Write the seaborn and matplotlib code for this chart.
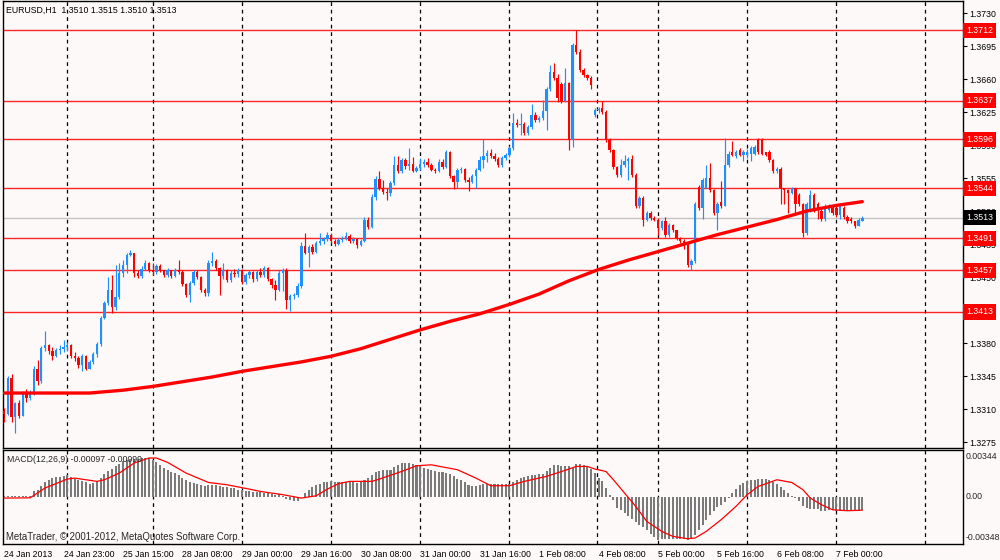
import numpy as np
import matplotlib
matplotlib.use("Agg")
import matplotlib.pyplot as plt
import seaborn as sns

# ---------------- data ----------------
closes = [
    1.3305, 1.3343, 1.3302, 1.3316, 1.3303, 1.3326, 1.3322, 1.3327,
    1.3352, 1.3340, 1.3375, 1.3378, 1.3372, 1.3366, 1.3373, 1.3374,
    1.3376, 1.3378, 1.3366, 1.3364, 1.3357, 1.3366, 1.3353, 1.3360,
    1.3368, 1.3379, 1.3407, 1.3422, 1.3436, 1.3418, 1.3429, 1.3454,
    1.3463, 1.3473, 1.3476, 1.3454, 1.3451, 1.3459, 1.3465, 1.3458,
    1.3455, 1.3462, 1.3457, 1.3452, 1.3457, 1.3451, 1.3458, 1.3455,
    1.3443, 1.3431, 1.3444, 1.3455, 1.3450, 1.3436, 1.3433, 1.3465,
    1.3467, 1.3460, 1.3451, 1.3458, 1.3447, 1.3454, 1.3453, 1.3457,
    1.3445, 1.3452, 1.3455, 1.3448, 1.3455, 1.3452, 1.3460, 1.3448,
    1.3442, 1.3436, 1.3454, 1.3458, 1.3426, 1.3430, 1.3431, 1.3441,
    1.3483, 1.3476, 1.3482, 1.3477, 1.3486, 1.3488, 1.3490, 1.3495,
    1.3488, 1.3485, 1.3489, 1.3491, 1.3494, 1.3488, 1.3490, 1.3484,
    1.3488, 1.3511, 1.3503, 1.3535, 1.3554, 1.3544, 1.3540, 1.3539,
    1.3550, 1.3569, 1.3562, 1.3574, 1.3568, 1.3570, 1.3563, 1.3566,
    1.3570, 1.3572, 1.3569, 1.3564, 1.3562, 1.3572, 1.3567, 1.3583,
    1.3557, 1.3551, 1.3564, 1.3565, 1.3553, 1.3551, 1.3557, 1.3564,
    1.3574, 1.3578, 1.3582, 1.3578, 1.3575, 1.3569, 1.3576, 1.3580,
    1.3587, 1.3613, 1.3611, 1.3612, 1.3603, 1.3609, 1.3622, 1.3617,
    1.3619, 1.3626, 1.3650, 1.3668, 1.3661, 1.3640, 1.3637, 1.3656,
    1.3595, 1.3696, 1.3689, 1.3670, 1.3664, 1.3661, 1.3654, 1.3627,
    1.3628, 1.3625, 1.3595, 1.3585, 1.3567, 1.3558, 1.3569, 1.3573,
    1.3575, 1.3558, 1.3525, 1.3534, 1.3511, 1.3518, 1.3513, 1.3511,
    1.3502, 1.3509, 1.3495, 1.3505, 1.3500, 1.3491, 1.3488, 1.3484,
    1.3463, 1.3467, 1.3528, 1.3523, 1.3553, 1.3555, 1.3542, 1.3518,
    1.3528, 1.3525, 1.3569, 1.3581, 1.3580, 1.3583, 1.3580, 1.3583,
    1.3583, 1.3587, 1.3588, 1.3583, 1.3581, 1.3580, 1.3574, 1.3562,
    1.3565, 1.3544, 1.3542, 1.3539, 1.3544, 1.3527, 1.3527, 1.3497,
    1.3528, 1.3537, 1.3521, 1.3521, 1.3512, 1.3525, 1.3525, 1.3518,
    1.3516, 1.3525, 1.3514, 1.3509, 1.3509, 1.3504, 1.3511, 1.3513,
]
highs = [
    1.3311, 1.3345, 1.3347, 1.3318, 1.3320, 1.3329, 1.3331, 1.3330,
    1.3356, 1.3362, 1.3377, 1.3393, 1.3379, 1.3376, 1.3375, 1.3378,
    1.3383, 1.3381, 1.3379, 1.3371, 1.3366, 1.3368, 1.3367, 1.3362,
    1.3370, 1.3381, 1.3409, 1.3425, 1.3450, 1.3452, 1.3463, 1.3465,
    1.3468, 1.3476, 1.3479, 1.3476, 1.3457, 1.3462, 1.3468, 1.3466,
    1.3465, 1.3464, 1.3464, 1.3458, 1.3460, 1.3458, 1.3460, 1.3468,
    1.3457, 1.3444, 1.3446, 1.3458, 1.3458, 1.3451, 1.3438, 1.3468,
    1.3477, 1.3469, 1.3461, 1.3465, 1.3459, 1.3457, 1.3459, 1.3460,
    1.3459, 1.3454, 1.3457, 1.3456, 1.3457, 1.3460, 1.3462, 1.3461,
    1.3449, 1.3447, 1.3458, 1.3460, 1.3460, 1.3432, 1.3433, 1.3444,
    1.3487, 1.3497, 1.3484, 1.3485, 1.3488, 1.3497, 1.3492, 1.3498,
    1.3497, 1.3490, 1.3491, 1.3494, 1.3498, 1.3496, 1.3492, 1.3490,
    1.3490, 1.3514, 1.3514, 1.3538, 1.3557, 1.3562, 1.3553, 1.3545,
    1.3552, 1.3578, 1.3578, 1.3576, 1.3576, 1.3587, 1.3577, 1.3568,
    1.3576, 1.3575, 1.3576, 1.3571, 1.3566, 1.3575, 1.3575, 1.3585,
    1.3584, 1.3558, 1.3566, 1.3567, 1.3566, 1.3556, 1.3559, 1.3566,
    1.3578, 1.3596, 1.3585, 1.3586, 1.3582, 1.3577, 1.3578, 1.3582,
    1.3589, 1.3624, 1.3618, 1.3624, 1.3614, 1.3611, 1.3634, 1.3625,
    1.3621, 1.3638, 1.3652, 1.3675, 1.3677, 1.3665, 1.3657, 1.3672,
    1.3657, 1.3698, 1.3712, 1.3692, 1.3672, 1.3665, 1.3663, 1.3629,
    1.3630, 1.3637, 1.3627, 1.3597, 1.3586, 1.3568, 1.3575, 1.3580,
    1.3577, 1.3580, 1.3560, 1.3536, 1.3536, 1.3520, 1.3520, 1.3515,
    1.3513, 1.3511, 1.3514, 1.3507, 1.3506, 1.3500, 1.3493, 1.3490,
    1.3487, 1.3469, 1.3530, 1.3548, 1.3555, 1.3569, 1.3571, 1.3543,
    1.3530, 1.3552, 1.3597, 1.3584, 1.3594, 1.3585, 1.3587, 1.3585,
    1.3586, 1.3589, 1.3590, 1.3597, 1.3597, 1.3583, 1.3585, 1.3575,
    1.3567, 1.3567, 1.3545, 1.3543, 1.3546, 1.3545, 1.3539, 1.3529,
    1.3530, 1.3542, 1.3539, 1.3530, 1.3522, 1.3527, 1.3527, 1.3525,
    1.3525, 1.3527, 1.3525, 1.3516, 1.3514, 1.3510, 1.3513, 1.3515,
]
lows = [
    1.3296, 1.3304, 1.3296, 1.3285, 1.3300, 1.3303, 1.3318, 1.3320,
    1.3325, 1.3336, 1.3338, 1.3372, 1.3368, 1.3362, 1.3365, 1.3368,
    1.3370, 1.3372, 1.3364, 1.3361, 1.3354, 1.3350, 1.3351, 1.3352,
    1.3358, 1.3365, 1.3377, 1.3405, 1.3420, 1.3412, 1.3415, 1.3427,
    1.3450, 1.3454, 1.3472, 1.3450, 1.3449, 1.3449, 1.3458, 1.3455,
    1.3452, 1.3453, 1.3455, 1.3450, 1.3450, 1.3449, 1.3450, 1.3453,
    1.3441, 1.3429, 1.3424, 1.3442, 1.3448, 1.3434, 1.3430, 1.3430,
    1.3462, 1.3458, 1.3431, 1.3448, 1.3445, 1.3445, 1.3450, 1.3450,
    1.3443, 1.3443, 1.3449, 1.3445, 1.3446, 1.3450, 1.3450, 1.3446,
    1.3438, 1.3426, 1.3435, 1.3435, 1.3416, 1.3414, 1.3427, 1.3429,
    1.3438, 1.3474, 1.3461, 1.3475, 1.3476, 1.3484, 1.3485, 1.3488,
    1.3486, 1.3483, 1.3484, 1.3487, 1.3489, 1.3486, 1.3486, 1.3481,
    1.3483, 1.3487, 1.3501, 1.3502, 1.3532, 1.3542, 1.3538, 1.3532,
    1.3536, 1.3548, 1.3560, 1.3560, 1.3565, 1.3564, 1.3561, 1.3561,
    1.3564, 1.3567, 1.3567, 1.3562, 1.3560, 1.3561, 1.3565, 1.3566,
    1.3555, 1.3543, 1.3544, 1.3560, 1.3551, 1.3541, 1.3550, 1.3544,
    1.3562, 1.3566, 1.3572, 1.3576, 1.3573, 1.3567, 1.3567, 1.3574,
    1.3577, 1.3585, 1.3609, 1.3601, 1.3601, 1.3601, 1.3607, 1.3615,
    1.3615, 1.3617, 1.3606, 1.3647, 1.3659, 1.3636, 1.3635, 1.3636,
    1.3585, 1.3588, 1.3687, 1.3668, 1.3662, 1.3659, 1.3650, 1.3620,
    1.3624, 1.3623, 1.3593, 1.3583, 1.3565, 1.3556, 1.3556, 1.3567,
    1.3553, 1.3556, 1.3523, 1.3523, 1.3504, 1.3509, 1.3511, 1.3509,
    1.3495, 1.3500, 1.3493, 1.3493, 1.3498, 1.3489, 1.3486, 1.3480,
    1.3461, 1.3457, 1.3465, 1.3521, 1.3512, 1.3544, 1.3540, 1.3516,
    1.3500, 1.3523, 1.3525, 1.3567, 1.3578, 1.3576, 1.3578, 1.3573,
    1.3576, 1.3573, 1.3579, 1.3581, 1.3579, 1.3578, 1.3572, 1.3560,
    1.3560, 1.3527, 1.3527, 1.3518, 1.3538, 1.3516, 1.3525, 1.3493,
    1.3495, 1.3519, 1.3519, 1.3512, 1.3510, 1.3510, 1.3519, 1.3516,
    1.3514, 1.3512, 1.3512, 1.3507, 1.3507, 1.3502, 1.3504, 1.3510,
]
first_open = 1.3308
# bars whose open differs from the previous close (gaps)
open_overrides = {
    150: 1.3655, 159: 1.3622, 161: 1.3629, 187: 1.3546, 189: 1.3544,
    193: 1.3530, 196: 1.3583, 197: 1.3578, 198: 1.3585, 200: 1.3579,
    201: 1.3581, 202: 1.3581, 203: 1.3595, 204: 1.3595, 205: 1.3583,
    206: 1.3583, 214: 1.3537, 217: 1.3521, 219: 1.3528, 220: 1.3520,
    222: 1.3521, 223: 1.3523, 224: 1.3523, 226: 1.3523, 228: 1.3512,
    231: 1.3510,
}

ma_bars = [0, 8, 16, 23, 32, 40, 48, 56, 64, 72, 80, 88, 96, 104, 112,
           120, 128, 136, 144, 152, 160, 168, 176, 184, 192, 200, 208,
           216, 224, 231]
ma_vals = [1.3327, 1.3327, 1.3327, 1.3327, 1.3330, 1.3334, 1.3339, 1.3344,
           1.3350, 1.3355, 1.3360, 1.3366, 1.3374, 1.3384, 1.3394, 1.3403,
           1.3411, 1.3421, 1.3432, 1.3446, 1.3458, 1.3468, 1.3477, 1.3486,
           1.3495, 1.3503, 1.3511, 1.3520, 1.3526, 1.3530]

# MACD main (histogram) and signal, in units of 1e-5
macd_e5 = [
    4, 4, 4, 3, 2, 2, 3, 7,
    39, 47, 76, 105, 125, 137, 145, 145,
    150, 159, 145, 130, 125, 118, 105, 96,
    101, 113, 137, 169, 191, 204, 223, 243,
    260, 272, 280, 280, 277, 285, 285, 282,
    272, 255, 235, 211, 194, 184, 174, 159,
    140, 125, 110, 101, 91, 88, 76, 83,
    88, 83, 76, 71, 71, 64, 64, 52,
    47, 39, 39, 34, 37, 32, 27, 27,
    22, 15, 20, 2, -15, -22, -29, -34,
    -2, 27, 52, 69, 83, 96, 105, 110,
    113, 108, 108, 110, 110, 105, 105, 101,
    105, 125, 137, 162, 179, 191, 199, 199,
    199, 218, 233, 248, 248, 248, 243, 233,
    223, 213, 204, 194, 189, 184, 179, 174,
    164, 150, 130, 120, 105, 88, 76, 81,
    88, 91, 96, 96, 96, 93, 96, 96,
    93, 105, 125, 137, 145, 150, 159, 162,
    164, 169, 186, 209, 233, 231, 228, 228,
    223, 209, 240, 243, 231, 223, 204, 174,
    137, 113, 64, 15, -27, -83, -101, -120,
    -140, -164, -184, -206, -226, -248, -272, -297,
    -316, -312, -309, -312, -309, -309, -309, -309,
    -316, -307, -280, -248, -209, -169, -132, -103,
    -76, -59, -42, -10, 27, 56, 83, 101,
    113, 120, 125, 132, 132, 130, 120, 105,
    91, 71, 52, 27, 7, -12, -34, -66,
    -86, -91, -91, -91, -105, -105, -101, -101,
    -103, -103, -103, -105, -105, -105, -103, -97,
]
signal_bars = [0, 7, 11, 17, 19, 25, 27, 31, 35, 39, 41, 44, 49, 55, 60,
               66, 69, 75, 80, 84, 87, 90, 93, 99, 101, 107, 111, 115, 122,
               127, 131, 136, 140, 146, 151, 154, 157, 159, 162, 164, 167,
               170, 173, 177, 180, 184, 186, 189, 193, 197, 200, 203, 206,
               208, 212, 215, 217, 220, 223, 227, 231]
signal_e5 = [-10, -8, 64, 130, 137, 113, 125, 174, 248, 285, 285, 253, 174,
             105, 88, 56, 39, 15, -10, 7, 56, 96, 113, 113, 130, 186, 228,
             235, 199, 137, 81, 81, 113, 150, 194, 223, 223, 204, 186, 125,
             27, -71, -182, -255, -292, -309, -304, -255, -169, -71, 15, 76,
             105, 125, 105, 52, -10, -59, -96, -103, -99]

level_prices = [1.3712, 1.3637, 1.3596, 1.3544, 1.3491, 1.3457, 1.3413]
bid_price = 1.3513
price_ticks = [1.3730, 1.3695, 1.3660, 1.3625, 1.3590, 1.3555, 1.3520,
               1.3485, 1.3450, 1.3415, 1.3380, 1.3345, 1.3310, 1.3275]
day_bars = [17, 40, 64, 88, 112, 136, 159.6, 176, 200, 224, 248]
label_bars = [0, 16, 32, 48, 64, 80, 96, 112, 128, 144, 160, 176, 192, 208, 224]
date_labels = ["24 Jan 2013", "24 Jan 23:00", "25 Jan 15:00", "28 Jan 08:00",
               "29 Jan 00:00", "29 Jan 16:00", "30 Jan 08:00", "31 Jan 00:00",
               "31 Jan 16:00", "1 Feb 08:00", "4 Feb 08:00", "5 Feb 00:00",
               "5 Feb 16:00", "6 Feb 08:00", "7 Feb 00:00"]
macd_max, macd_min = 0.00344, -0.00348

# ---------------- style ----------------
sns.set_style("white")
plt.rcParams["font.family"] = ["Liberation Sans", "DejaVu Sans"]
BG = "#fdf9f9"
BLUE = "#1e90ff"
RED = "#ff0000"
FS = 6.3

c = np.array(closes)
h = np.array(highs)
l = np.array(lows)
o = np.concatenate([[first_open], c[:-1]])
for k, v in open_overrides.items():
    o[k] = v
n = len(c)
x = np.arange(n)

fig = plt.figure(figsize=(10, 5.6), dpi=100, facecolor=BG)
ax = fig.add_axes([0.003, 0.2, 0.960, 0.798], facecolor=BG)
axm = fig.add_axes([0.003, 0.02857, 0.960, 0.16786], facecolor=BG, sharex=ax)

for a in (ax, axm):
    for s in a.spines.values():
        s.set_color("black")
        s.set_linewidth(1.0)
    for b in day_bars:
        a.axvline(b, color="black", lw=0.9, ls=(0, (3, 3)), zorder=1)

# levels
for p in level_prices:
    ax.axhline(p, color=RED, lw=1.0, alpha=0.85, zorder=1.5)
ax.axhline(bid_price, color="#c4c4c4", lw=1.0, zorder=1.4)

# candles
up = c >= o
cols = np.where(up, BLUE, RED)
ax.vlines(x, l, h, colors=cols, lw=0.85, zorder=3)
body_b = np.minimum(o, c)
body_h = np.maximum(np.abs(c - o), 0.00009)
ax.bar(x, body_h, bottom=body_b, width=0.64, color=cols, linewidth=0, zorder=3.1)

# moving average
sns.lineplot(x=ma_bars, y=ma_vals, ax=ax, color=RED, lw=2.4, zorder=4)

ax.set_xlim(-0.3, 258.1)
ax.set_ylim(1.32687, 1.37427)
ax.set_yticks(price_ticks)
ax.set_yticklabels([f"{p:.4f}" for p in price_ticks])
ax.yaxis.tick_right()
ax.tick_params(axis="y", labelsize=FS, length=3, width=0.8, pad=1.5,
               direction="out", colors="black")
ax.tick_params(axis="x", bottom=False, labelbottom=False)
ax.set_xlabel("")
ax.set_ylabel("")

ytr = ax.get_yaxis_transform()
for p in level_prices:
    ax.text(1.0035, p, f"{p:.4f}", transform=ytr, ha="left", va="center",
            fontsize=FS, color="white", zorder=10, clip_on=False,
            bbox=dict(boxstyle="square,pad=0.35", fc=RED, ec="none"))
ax.text(1.0035, bid_price, f"{bid_price:.4f}", transform=ytr, ha="left",
        va="center", fontsize=FS, color="white", zorder=10, clip_on=False,
        bbox=dict(boxstyle="square,pad=0.35", fc="black", ec="none"))

fig.text(0.006, 1 - 10 / 560, "EURUSD,H1  1.3510 1.3515 1.3510 1.3513",
         fontsize=FS, va="center", ha="left", color="black")

# MACD panel
hist = np.array(macd_e5) * 1e-5
axm.bar(x, hist, width=0.55, color="#7a7a7a", linewidth=0, zorder=2)
sns.lineplot(x=signal_bars, y=np.array(signal_e5) * 1e-5, ax=axm,
             color=RED, lw=0.9, zorder=3)
axm.set_ylim(macd_min, macd_max)
axm.set_yticks([])
axm.set_ylabel("")
axm.set_xticks(label_bars)
axm.set_xticklabels(date_labels)
for t in axm.get_xticklabels():
    t.set_ha("left")
axm.tick_params(axis="x", labelsize=FS, length=3, width=0.8, pad=1,
                direction="out", colors="black")
axm.set_xlabel("")
axm.set_xlim(-0.3, 258.1)

axm.text(0.004, 0.90, "MACD(12,26,9) -0.00097 -0.00099", transform=axm.transAxes,
         fontsize=FS, va="center", ha="left")
axm.text(0.003, 0.075, "MetaTrader, \u00a9 2001-2012, MetaQuotes Software Corp.",
         transform=axm.transAxes, fontsize=FS + 0.6, va="center", ha="left")
axm.text(1.003, 0.93, "0.00344", transform=axm.transAxes, fontsize=FS,
         va="center", ha="left", clip_on=False)
axm.text(1.003, 0.0, "0.00", transform=axm.get_yaxis_transform(),
         fontsize=FS, va="center", ha="left", clip_on=False)
axm.text(1.003, 0.07, "-0.00348", transform=axm.transAxes, fontsize=FS,
         va="center", ha="left", clip_on=False)

fig.savefig("out.png", dpi=100, facecolor=BG)
